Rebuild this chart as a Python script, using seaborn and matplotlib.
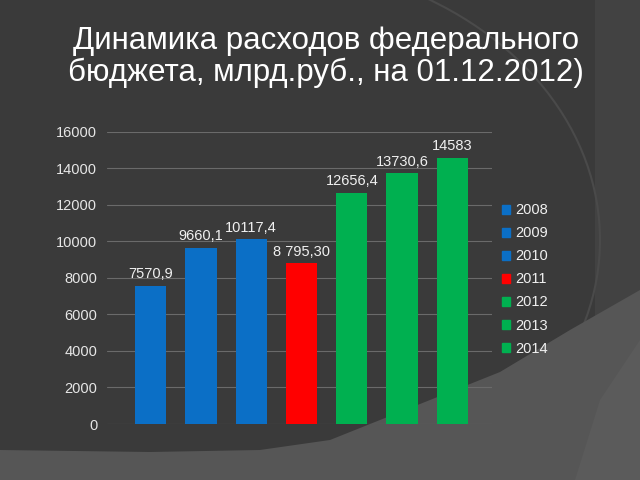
import matplotlib
matplotlib.use("Agg")
import matplotlib.pyplot as plt
import matplotlib.patches as mpatches
import seaborn as sns
import pandas as pd

years = ["2008", "2009", "2010", "2011", "2012", "2013", "2014"]
values = [7570.9, 9660.1, 10117.4, 8795.30, 12656.4, 13730.6, 14583]
labels = ["7570,9", "9660,1", "10117,4", "8 795,30", "12656,4", "13730,6", "14583"]
colors = ["#0b6fc6", "#0b6fc6", "#0b6fc6", "#ff0000", "#00b050", "#00b050", "#00b050"]
yticks = [0, 2000, 4000, 6000, 8000, 10000, 12000, 14000, 16000]
title = "Динамика расходов федерального\nбюджета, млрд.руб., на 01.12.2012)"

df = pd.DataFrame({"year": years, "value": values})

sns.set_theme(style="dark")
plt.rcParams["font.family"] = ["Liberation Sans", "DejaVu Sans"]

W, H = 640, 480
fig = plt.figure(figsize=(6.4, 4.8), dpi=100)
fig.patch.set_facecolor("#3a3a3a")

# decorative slide background
bg = fig.add_axes([0, 0, 1, 1], zorder=-10)
bg.set_xlim(0, W)
bg.set_ylim(H, 0)
bg.axis("off")
bg.add_patch(mpatches.Polygon([(595, 0), (640, 0), (640, 480), (595, 480)],
                              closed=True, color="#424242", lw=0))
bg.add_patch(mpatches.Arc((250, 240), 700, 560, theta1=-60, theta2=60,
                          ec="#4a4a4a", lw=1.5))
bg.add_patch(mpatches.Polygon([(0, 450), (150, 452), (260, 450), (330, 440), (380, 420),
                               (430, 400), (500, 372), (570, 330), (640, 290),
                               (640, 480), (0, 480)],
                              closed=True, color="#565656", lw=0))
bg.add_patch(mpatches.Polygon([(575, 480), (600, 400), (640, 340), (640, 480)],
                              closed=True, color="#5b5b5b", lw=0))

ax = fig.add_axes([107 / W, 1 - 424 / H, (492 - 107) / W, (424 - 131.7) / H])
ax.set_facecolor("none")

sns.barplot(data=df, x="year", y="value", hue="year", palette=colors,
            dodge=False, width=0.62, saturation=1, ax=ax, legend=True, zorder=3,
            linewidth=0, edgecolor="none")

ax.set_ylim(0, 16000)
ax.set_xlim(-0.87, 6.79)
ax.set_yticks(yticks)
ax.set_yticklabels([str(t) for t in yticks], color="#e6e6e6", fontsize=10.5)
ax.set_xticks([])
ax.set_xlabel("")
ax.set_ylabel("")
ax.tick_params(axis="y", length=0, pad=7)
for s in ax.spines.values():
    s.set_visible(False)
ax.grid(axis="y", color="#6a6a6a", lw=0.8, zorder=0)
ax.grid(axis="x", visible=False)

for i, (v, lab) in enumerate(zip(values, labels)):
    ax.text(i, v + 250, lab, ha="center", va="bottom", color="#f0f0f0", fontsize=10.5)

handles = [mpatches.Patch(color=c, label=y) for y, c in zip(years, colors)]
leg = ax.legend(handles=handles, loc="upper left", bbox_to_anchor=(1.01, 0.775),
                frameon=False, handlelength=0.6, handleheight=0.6, handletextpad=0.3,
                labelspacing=0.62, fontsize=10.5, labelcolor="#f0f0f0", borderaxespad=0)

fig.text(326 / W, 1 - 57 / H, title, ha="center", va="center", color="white",
         fontsize=22.5, linespacing=1.05,
         family=["Liberation Sans Narrow", "Liberation Sans", "DejaVu Sans"])

fig.savefig("out.png", dpi=100, facecolor=fig.get_facecolor())
